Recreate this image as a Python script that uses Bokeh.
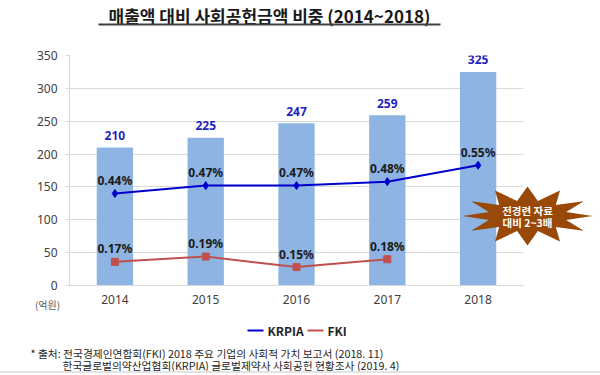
import math
from bokeh.plotting import figure
from bokeh.models import Range1d, FixedTicker
from bokeh.core.properties import value
from bokeh.embed import file_html
from bokeh.resources import INLINE

# ---------------- data ----------------
years = ["2014", "2015", "2016", "2017", "2018"]
amounts = [210, 225, 247, 259, 325]                  # 사회공헌금액 (억원)
krpia_pos = [140, 152, 152, 158, 183]                # KRPIA line height on chart
krpia_pct = ["0.44%", "0.47%", "0.47%", "0.48%", "0.55%"]
fki_pos = [36, 44, 28, 40]                           # FKI line height on chart
fki_pct = ["0.17%", "0.19%", "0.15%", "0.18%"]
y_ticks = [0, 50, 100, 150, 200, 250, 300, 350]
series_names = ["KRPIA", "FKI"]
series_colors = ["#0000CC", "#C0504D"]

title_text = "매출액 대비 사회공헌금액 비중 (2014~2018)"
unit_text = "(억원)"
burst_lines = ["전경련 자료", "대비 2~3배"]
note_lines = ["* 출처: 전국경제인연합회(FKI) 2018 주요 기업의 사회적 가치 보고서 (2018. 11)",
              "한국글로벌의약산업협회(KRPIA) 글로벌제약사 사회공헌 현황조사 (2019. 4)"]

# ---------------- layout ----------------
W, H = 600, 375
L, T, FW, FH = 69, 55, 454, 230
KR = "Noto Sans CJK KR"
NUM = "Noto Sans"

xs = list(range(len(years)))

p = figure(width=W, height=H, x_range=Range1d(-0.5, 4.5), y_range=Range1d(0, 350),
           output_backend="svg", toolbar_location=None,
           min_border_left=L, min_border_right=W - L - FW,
           min_border_top=T, min_border_bottom=H - T - FH)
p.outline_line_color = None
p.background_fill_color = "white"
p.border_fill_color = "white"

# page-pixel -> data helpers (for decorations outside the frame)
def dx(px):
    return (px - L) / FW * 5 - 0.5

def dy(py):
    return (T + FH - py) / FH * 350

# axes
p.xgrid.visible = False
p.ygrid.grid_line_color = "#D9D9D9"
p.ygrid.grid_line_width = 1
p.yaxis.ticker = FixedTicker(ticks=y_ticks)
p.xaxis.ticker = FixedTicker(ticks=xs)
p.xaxis.major_label_overrides = {i: y for i, y in enumerate(years)}
for ax in (p.xaxis, p.yaxis):
    ax.axis_line_color = "#D9D9D9"
    ax.major_label_text_font = NUM
    ax.major_label_text_font_size = "12px"
    ax.major_label_text_color = "#404040"
    ax.minor_tick_line_color = None
p.yaxis.major_tick_line_color = "#D9D9D9"
p.yaxis.major_tick_out = 4
p.yaxis.major_tick_in = 0
p.yaxis.major_label_standoff = 8
p.xaxis.major_tick_line_color = None
p.xaxis.major_tick_out = 0
p.xaxis.major_tick_in = 0
p.xaxis.major_label_standoff = 9

# bars
p.vbar(x=xs, top=amounts, width=0.4, fill_color="#8DB4E2", line_color=None)
p.text(x=xs, y=amounts, text=[str(a) for a in amounts], text_align="center",
       text_baseline="middle", y_offset=-12, text_font=value(NUM),
       text_font_style="bold", text_font_size="12px", text_color="#1F1FBF")

# lines
p.line(xs, krpia_pos, line_color=series_colors[0], line_width=2)
p.scatter(xs, krpia_pos, marker="diamond", size=8, fill_color=series_colors[0],
          line_color=series_colors[0])
p.line(xs[:len(fki_pos)], fki_pos, line_color=series_colors[1], line_width=2)
p.scatter(xs[:len(fki_pos)], fki_pos, marker="square", size=7, fill_color=series_colors[1],
          line_color=series_colors[1])

p.text(x=xs, y=krpia_pos, text=krpia_pct, text_align="center", text_baseline="middle",
       y_offset=-13, text_font=value(NUM), text_font_style="bold",
       text_font_size="12px", text_color="#1A1A1A")
p.text(x=xs[:len(fki_pos)], y=fki_pos, text=fki_pct, text_align="center", text_baseline="middle",
       y_offset=-13, text_font=value(NUM), text_font_style="bold",
       text_font_size="12px", text_color="#1A1A1A")

# legend (drawn at overlay level below the frame)
leg_y = dy(330)
leg_x0 = [247, 307]
for name, col, x0, mk, sz in zip(series_names, series_colors, leg_x0, ["diamond", "square"], [7, 6]):
    p.line(x=[dx(x0), dx(x0 + 16)], y=[leg_y, leg_y], line_color=col, line_width=2, level="overlay")
    p.scatter(x=[dx(x0 + 8)], y=[leg_y], marker=mk, size=sz, fill_color=col, line_color=col,
              level="overlay")
    p.text(x=[dx(x0 + 20)], y=[leg_y], text=[name], text_align="left", text_baseline="middle",
           text_font=value(KR), text_font_style="bold", text_font_size="12px",
           text_color="#262626", level="overlay")

# title + underline
p.text(x=[dx(269)], y=[dy(15)], text=[title_text], text_align="center",
       text_baseline="middle", text_font=value(KR), text_font_style="bold",
       text_font_size="17px", text_color="#1A1A1A", level="overlay")
p.line(x=[dx(98), dx(440)], y=[dy(24), dy(24)], line_color="#404040", line_width=2,
       level="overlay")

# unit label
p.text(x=[dx(47)], y=[dy(304)], text=[unit_text], text_align="center",
       text_baseline="middle", text_font=value(KR), text_font_size="10px",
       text_color="#595959", level="overlay")

# burst
cx, cy = 527, 215.5
pts_x, pts_y = [], []
n = 12
for k in range(2 * n):
    ang = math.pi * k / n
    rx, ry = (65, 29.5) if k % 2 == 0 else (40, 15.5)
    pts_x.append(dx(cx + rx * math.cos(ang)))
    pts_y.append(dy(cy - ry * math.sin(ang)))
p.patch(pts_x, pts_y, fill_color="#984807", line_color=None, level="overlay")
p.text(x=[dx(527)] * 2, y=[dy(209.5), dy(221.5)], text=burst_lines, text_align="center",
       text_baseline="middle", text_font=value(KR), text_font_style="bold",
       text_font_size="10.5px", text_color="white", level="overlay")

# footnote
p.text(x=[dx(30)], y=[dy(352.7)], text=[note_lines[0]], text_align="left",
       text_baseline="middle", text_font=value(KR), text_font_size="10.75px",
       text_color="#262626", level="overlay")
p.text(x=[dx(62)], y=[dy(364.5)], text=[note_lines[1]], text_align="left",
       text_baseline="middle", text_font=value(KR), text_font_size="10.75px",
       text_color="#262626", level="overlay")

# bottom rule
p.line(x=[dx(0), dx(600)], y=[dy(371.5), dy(371.5)], line_color="#E3E3E3", line_width=2,
       level="overlay")

open("out.html", "w").write(file_html(p, INLINE))
